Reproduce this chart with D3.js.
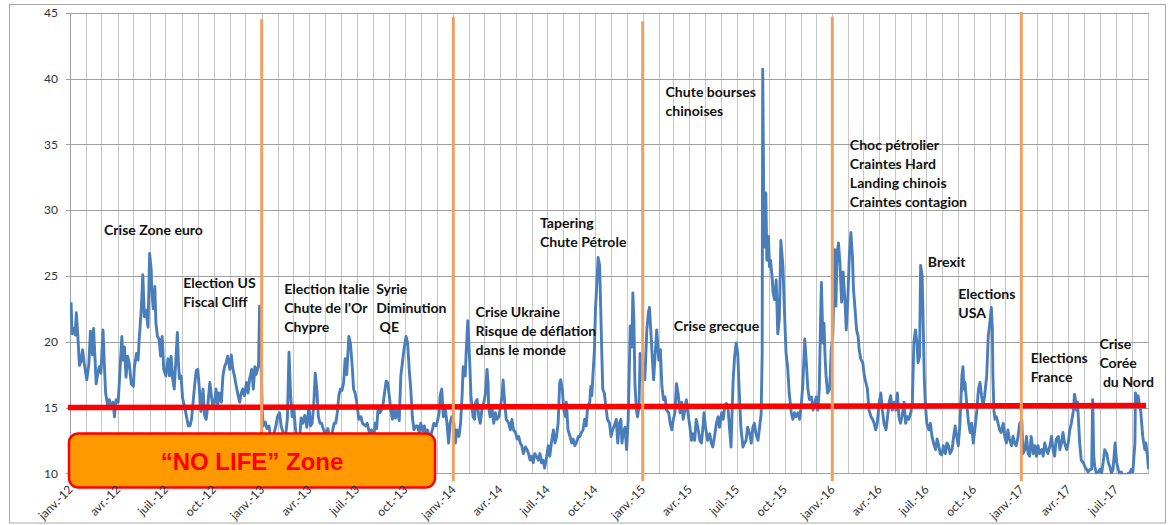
<!DOCTYPE html>
<html>
<head>
<meta charset="utf-8">
<script src="https://cdn.jsdelivr.net/npm/d3@7"></script>
<style>
  html, body { margin: 0; padding: 0; background: #fff; }
  svg { display: block; }
  text { white-space: pre; }
</style>
</head>
<body>
<svg id="chart" width="1169" height="525"></svg>
<script>
// Daily volatility index readings, one array per year: [month-day, close]
const vix2012 = [["01-03",23.0],["01-05",20.6],["01-09",21.0],["01-11",20.5],["01-13",22.2],["01-16",20.4],["01-19",18.2],["01-22",18.5],["01-25",19.4],["01-28",18.4],
  ["02-02",17.1],["02-06",18.3],["02-09",20.8],["02-13",19.0],["02-15",21.0],["02-18",18.5],["02-20",16.8],["02-23",17.6],["02-26",18.1],["02-29",17.6],
  ["03-04",20.9],["03-07",17.9],["03-09",16.1],["03-13",15.1],["03-16",15.6],["03-20",15.0],["03-23",15.4],["03-26",14.3],["03-29",15.6],
  ["04-02",15.4],["04-05",17.5],["04-09",20.4],["04-11",18.6],["04-14",19.6],["04-17",17.3],["04-20",18.9],["04-23",18.4],["04-27",16.8],
  ["05-01",16.6],["05-03",18.1],["05-07",19.1],["05-10",18.6],["05-12",20.1],["05-16",22.4],["05-19",25.1],["05-22",21.9],["05-25",22.4],["05-29",21.1],
  ["06-01",26.7],["06-04",25.5],["06-05",24.0],["06-08",22.5],["06-11",24.2],["06-13",21.4],["06-16",20.4],["06-19",20.2],["06-22",18.9],["06-25",20.4],["06-28",17.9],
  ["07-02",17.4],["07-06",18.7],["07-09",17.4],["07-12",18.9],["07-15",17.2],["07-18",16.4],["07-24",20.7],["07-26",18.4],["07-28",17.2],["07-31",17.4],
  ["08-03",15.7],["08-06",15.2],["08-10",14.4],["08-14",13.6],["08-17",13.6],["08-20",14.1],["08-23",15.4],["08-26",16.7],["08-29",17.8],
  ["09-01",17.9],["09-05",15.9],["09-07",14.7],["09-11",16.4],["09-14",14.4],["09-17",14.1],["09-20",15.1],["09-24",16.9],["09-27",15.9],["09-30",14.9],
  ["10-03",15.4],["10-06",16.4],["10-09",15.2],["10-12",16.1],["10-16",15.4],["10-19",17.4],["10-22",18.1],["10-25",18.4],["10-28",18.9],
  ["11-01",17.9],["11-04",19.0],["11-07",17.9],["11-10",17.4],["11-13",16.7],["11-17",15.9],["11-20",15.4],["11-23",16.1],["11-26",16.4],["11-29",15.9],
  ["12-03",16.9],["12-06",16.1],["12-09",17.2],["12-13",17.9],["12-16",16.4],["12-19",18.1],["12-21",17.5],["12-24",17.9],["12-26",18.2],["12-28",22.7],["12-31",18.0]];

const vix2013 = [["01-02",14.7],["01-04",13.6],["01-08",13.9],["01-11",13.4],["01-15",13.6],["01-18",12.6],["01-23",12.8],["01-28",13.6],["01-31",14.3],
  ["02-04",14.6],["02-07",13.6],["02-12",12.9],["02-15",12.6],["02-19",14.2],["02-22",19.2],["02-25",16.0],["02-28",14.3],
  ["03-03",15.1],["03-06",13.5],["03-09",12.6],["03-13",11.8],["03-17",14.2],["03-20",13.8],["03-24",14.4],["03-28",13.5],
  ["04-01",15.1],["04-04",13.6],["04-07",13.8],["04-10",15.1],["04-13",17.6],["04-16",16.4],["04-19",14.3],["04-22",13.8],["04-25",13.8],["04-29",13.3],
  ["05-03",12.9],["05-07",13.4],["05-11",12.7],["05-15",13.0],["05-19",13.8],["05-22",13.8],["05-25",14.6],["05-28",15.9],["05-31",16.4],
  ["06-03",16.3],["06-06",16.9],["06-09",18.7],["06-12",17.5],["06-16",20.4],["06-19",19.9],["06-22",18.4],["06-25",16.4],["06-28",16.1],
  ["07-01",15.4],["07-05",14.1],["07-09",14.3],["07-12",13.8],["07-18",13.6],["07-21",13.8],["07-25",13.1],["07-29",13.3],
  ["08-02",12.4],["08-05",13.8],["08-08",13.4],["08-11",15.1],["08-14",14.6],["08-17",14.8],["08-20",15.2],["08-23",16.1],["08-26",17.0],["08-29",16.9],
  ["09-01",15.9],["09-04",14.8],["09-07",14.1],["09-10",15.1],["09-13",14.2],["09-17",14.8],["09-20",14.0],["09-23",17.4],["09-26",18.4],["09-29",19.4],
  ["10-03",20.4],["10-06",19.9],["10-09",17.9],["10-12",16.4],["10-15",14.3],["10-18",13.3],["10-22",13.6],["10-25",13.6],["10-28",13.1],["10-31",13.8],
  ["11-04",13.2],["11-07",13.6],["11-10",12.8],["11-13",13.3],["11-17",12.6],["11-22",13.3],["11-25",13.8],["11-29",13.6],
  ["12-02",14.0],["12-05",14.6],["12-07",15.9],["12-10",16.4],["12-13",14.3],["12-17",14.8],["12-20",13.8],["12-23",12.3],["12-26",13.8],["12-29",14.3]];

const vix2014 = [["01-02",13.8],["01-05",12.3],["01-08",13.3],["01-12",12.8],["01-15",13.8],["01-18",15.9],["01-20",18.1],["01-22",17.9],["01-24",17.4],["01-26",19.4],["01-29",21.6],["01-31",19.9],
  ["02-02",18.1],["02-04",15.9],["02-08",14.3],["02-11",14.1],["02-13",15.4],["02-16",15.6],["02-19",14.3],["02-22",13.8],["02-25",14.8],
  ["03-01",15.4],["03-04",16.1],["03-07",17.9],["03-09",16.9],["03-10",15.1],["03-13",14.3],["03-16",15.1],["03-20",13.8],["03-23",14.6],["03-26",14.1],["03-30",14.3],
  ["04-02",15.1],["04-05",15.9],["04-07",17.1],["04-09",15.9],["04-13",14.1],["04-18",13.8],["04-21",13.3],["04-24",14.1],["04-27",13.3],
  ["05-01",13.1],["05-04",12.6],["05-07",12.8],["05-10",12.3],["05-13",12.1],["05-16",11.5],["05-20",12.0],["05-23",11.8],["05-26",11.5],["05-29",11.0],
  ["06-01",11.3],["06-04",10.8],["06-07",11.5],["06-10",11.3],["06-14",11.0],["06-17",11.5],["06-20",10.8],["06-23",11.0],["06-26",10.4],["06-30",11.3],
  ["07-03",12.1],["07-06",11.3],["07-09",12.3],["07-13",13.3],["07-16",12.3],["07-19",12.8],["07-22",13.8],["07-25",16.9],["07-27",17.1],["07-30",16.4],
  ["08-02",14.8],["08-05",14.3],["08-07",15.4],["08-10",13.3],["08-14",12.8],["08-17",12.3],["08-20",12.6],["08-23",12.1],["08-26",12.3],["08-30",12.8],
  ["09-02",12.8],["09-05",13.1],["09-08",13.3],["09-11",14.1],["09-14",13.6],["09-17",15.1],["09-21",15.4],["09-23",16.6],["09-25",15.9],["09-27",17.4],["09-30",19.4],
  ["10-02",22.5],["10-05",24.7],["10-07",26.4],["10-10",25.8],["10-12",22.7],["10-14",19.4],["10-16",16.4],["10-19",16.1],["10-22",15.1],["10-25",14.1],["10-29",13.8],
  ["11-01",12.8],["11-04",13.3],["11-07",13.6],["11-11",14.1],["11-14",12.3],["11-17",13.8],["11-20",14.1],["11-22",12.3],["11-25",13.2],["11-28",13.5],
  ["12-01",11.8],["12-04",14.1],["12-08",21.2],["12-11",19.6],["12-13",23.7],["12-15",21.7],["12-17",16.8],["12-20",14.8],["12-22",14.3],["12-25",15.1],["12-27",19.1],["12-29",17.1]];

const vix2015 = [["01-02",17.8],["01-05",17.1],["01-09",20.9],["01-12",22.2],["01-14",22.6],["01-17",20.6],["01-19",19.1],["01-22",17.1],["01-25",19.1],["01-28",20.9],
  ["02-01",18.6],["02-04",19.4],["02-07",16.6],["02-10",15.6],["02-13",15.8],["02-16",14.8],["02-20",14.6],["02-23",13.8],["02-26",13.3],
  ["03-01",14.1],["03-04",14.6],["03-07",16.8],["03-10",16.1],["03-14",14.6],["03-17",15.4],["03-20",14.1],["03-23",14.8],["03-26",15.6],["03-29",14.6],
  ["04-02",13.5],["04-05",12.5],["04-08",13.0],["04-11",12.5],["04-14",14.1],["04-18",13.3],["04-21",12.5],["04-24",12.3],["04-27",13.5],["04-29",14.6],
  ["05-02",13.5],["05-06",12.5],["05-10",13.0],["05-13",12.3],["05-16",12.0],["05-20",13.0],["05-23",13.8],["05-26",14.3],["05-29",13.5],
  ["06-02",14.6],["06-05",14.1],["06-08",15.1],["06-11",15.3],["06-14",15.1],["06-17",13.5],["06-20",12.0],["06-24",17.0],["06-27",18.9],["06-30",19.9],
  ["07-03",19.1],["07-06",16.1],["07-09",13.5],["07-13",12.0],["07-16",12.3],["07-19",12.5],["07-22",13.5],["07-26",13.0],["07-29",12.3],
  ["08-01",13.5],["08-04",13.8],["08-07",13.0],["08-11",12.5],["08-14",13.5],["08-17",14.5],["08-19",19.0],["08-20",40.7],["08-22",31.3],["08-24",27.2],["08-26",31.3],["08-28",26.2],["08-31",28.0],
  ["09-02",25.7],["09-04",26.2],["09-07",25.0],["09-09",23.7],["09-12",23.2],["09-15",24.7],["09-18",20.6],["09-21",21.7],["09-24",27.7],["09-28",25.7],
  ["10-01",22.2],["10-04",19.1],["10-07",18.1],["10-10",16.1],["10-14",14.6],["10-17",14.1],["10-20",14.6],["10-23",14.3],["10-27",14.6],["10-30",14.1],
  ["11-02",15.1],["11-05",16.6],["11-09",20.2],["11-12",18.4],["11-15",16.4],["11-18",15.6],["11-22",15.8],["11-25",14.8],["11-28",15.3],
  ["12-01",15.8],["12-04",14.8],["12-07",16.4],["12-09",20.9],["12-11",24.5],["12-14",19.9],["12-16",21.4],["12-18",18.9],["12-20",17.4],["12-23",16.1],["12-27",16.4],["12-30",19.4]];

const vix2016 = [["01-02",20.5],["01-04",24.0],["01-06",27.0],["01-08",22.7],["01-10",26.5],["01-13",27.5],["01-16",25.8],["01-19",23.0],["01-22",25.3],["01-26",22.7],["01-28",20.9],["01-31",23.2],
  ["02-03",26.5],["02-06",28.3],["02-09",26.5],["02-11",24.0],["02-14",22.5],["02-17",20.9],["02-20",20.4],["02-22",19.4],["02-25",18.7],["02-29",18.4],
  ["03-03",17.4],["03-06",16.9],["03-09",16.4],["03-12",14.8],["03-16",14.3],["03-19",14.1],["03-22",13.8],["03-25",13.3],["03-28",13.8],
  ["04-01",15.4],["04-04",16.1],["04-07",14.8],["04-10",13.8],["04-14",13.3],["04-17",14.3],["04-20",15.4],["04-23",15.9],["04-26",14.8],["04-30",15.4],
  ["05-03",14.8],["05-06",16.1],["05-09",14.3],["05-12",13.8],["05-15",14.3],["05-19",15.4],["05-22",13.8],["05-25",14.3],["05-28",14.1],
  ["06-01",14.6],["06-04",15.4],["06-07",20.0],["06-10",20.9],["06-13",19.9],["06-15",18.4],["06-18",18.9],["06-20",25.8],["06-23",25.0],["06-25",21.4],["06-27",17.4],["06-29",15.4],
  ["07-02",13.8],["07-06",13.3],["07-09",13.8],["07-12",12.8],["07-15",12.3],["07-19",11.8],["07-22",12.6],["07-25",12.1],["07-28",11.5],["07-31",11.4],
  ["08-03",12.1],["08-07",11.5],["08-10",12.3],["08-13",12.1],["08-16",11.5],["08-20",11.8],["08-23",12.8],["08-26",13.6],["08-29",12.8],
  ["09-01",12.1],["09-04",13.6],["09-08",17.4],["09-10",18.1],["09-12",16.4],["09-14",16.9],["09-17",15.4],["09-21",13.8],["09-24",13.1],["09-27",13.8],["09-30",12.3],
  ["10-03",13.3],["10-07",14.8],["10-10",16.4],["10-13",16.9],["10-16",15.9],["10-19",15.1],["10-22",15.9],["10-26",17.4],["10-29",20.4],
  ["11-01",21.4],["11-04",22.6],["11-06",20.9],["11-07",17.4],["11-09",14.8],["11-11",14.1],["11-14",14.3],["11-17",13.8],["11-20",13.3],["11-23",13.1],["11-27",13.8],["11-30",12.8],
  ["12-03",12.3],["12-06",13.3],["12-09",12.6],["12-13",12.1],["12-16",12.8],["12-19",12.3],["12-22",12.1],["12-25",12.6],["12-29",13.8]];

const vix2017 = [["01-02",14.0],["01-04",11.5],["01-08",11.8],["01-11",12.8],["01-14",11.5],["01-17",11.3],["01-20",12.8],["01-24",11.5],["01-27",12.1],["01-30",11.3],
  ["02-02",12.1],["02-05",11.5],["02-09",11.8],["02-12",11.3],["02-15",12.3],["02-18",11.8],["02-21",11.5],["02-25",12.1],["02-28",12.8],
  ["03-03",11.8],["03-06",11.3],["03-09",12.6],["03-13",12.8],["03-16",11.8],["03-19",12.3],["03-22",13.1],["03-25",12.3],["03-29",11.8],
  ["04-01",12.3],["04-04",13.3],["04-07",13.8],["04-11",14.8],["04-13",16.0],["04-15",15.6],["04-17",14.8],["04-19",15.4],["04-21",13.8],["04-23",12.3],["04-26",11.0],["04-30",10.8],
  ["05-03",10.5],["05-06",10.3],["05-09",10.1],["05-13",10.3],["05-16",10.3],["05-18",15.6],["05-20",11.3],["05-22",10.5],["05-25",10.0],["05-29",10.1],
  ["06-01",10.3],["06-04",10.0],["06-07",10.8],["06-10",11.8],["06-14",11.5],["06-17",10.8],["06-20",10.5],["06-23",10.0],["06-26",10.3],["06-30",12.3],
  ["07-03",10.8],["07-06",10.3],["07-09",9.9],["07-12",10.1],["07-16",9.7],["07-19",9.9],["07-22",9.7],["07-25",10.0],["07-28",10.0],["07-31",10.3],
  ["08-03",10.1],["08-07",12.3],["08-08",16.1],["08-11",15.4],["08-13",15.9],["08-15",15.4],["08-18",14.8],["08-20",13.8],["08-22",12.8],["08-24",12.3],["08-26",11.8],["08-28",12.3],["08-31",11.3],
  ["09-02",10.3]];

// Axis values and labels
const yTicks = [10, 15, 20, 25, 30, 35, 40, 45];
const monthAbbr = ["janv.", "févr.", "mars", "avr.", "mai", "juin", "juil.", "août", "sept.", "oct.", "nov.", "déc."];

// Threshold line (start and end level) and year-change markers
const thresholdLevels = [15, 15.15];
const yearMarkerDates = ["2013-01-01", "2014-01-01", "2015-01-01", "2016-01-01", "2017-01-01"];
const yearMarkerTops = [44.5, 44.7, 44.35, 44.7, 45.05];
const yearMarkerBottom = 9.4;

// Event notes: anchor date / level of the first line
const events = [
  { date: "2012-03-06", level: 28.11, lines: ["Crise Zone euro"] },
  { date: "2012-08-04", level: 24.08, lines: ["Election US", "Fiscal Cliff"] },
  { date: "2013-02-13", level: 23.59, lines: ["Election Italie", "Chute de l'Or", "Chypre"] },
  { date: "2013-08-07", level: 23.59, lines: ["Syrie", "Diminution", " QE"] },
  { date: "2014-02-13", level: 21.88, lines: ["Crise Ukraine", "Risque de déflation", "dans le monde"] },
  { date: "2014-06-17", level: 28.64, lines: ["Tapering", "Chute Pétrole"] },
  { date: "2015-02-14", level: 38.6, lines: ["Chute bourses", "chinoises"] },
  { date: "2015-03-02", level: 20.82, lines: ["Crise grecque"] },
  { date: "2016-02-04", level: 34.53, lines: ["Choc pétrolier", "Craintes Hard", "Landing chinois", "Craintes contagion"] },
  { date: "2016-07-04", level: 25.68, lines: ["Brexit"] },
  { date: "2016-09-01", level: 23.21, lines: ["Elections", "USA"] },
  { date: "2017-01-19", level: 18.35, lines: ["Elections", "France"] },
  { date: "2017-05-31", level: 19.45, lines: ["Crise", "Corée", " du Nord"] }
];
const zoneLabel = "\u201CNO LIFE\u201D Zone";

// ---------- layout ----------
const parseDay = d3.timeParse("%Y-%m-%d");
const yearBreaks = ["2012-01-01", "2013-01-01", "2014-01-01", "2015-01-01", "2016-01-01", "2017-01-01", "2017-09-03"].map(parseDay);
const yearBreakPx = [70, 261.7, 453.3, 642.7, 832.3, 1021.3, 1149];
const plotTop = 12.7, plotBottom = 473.3, plotLeft = 70, plotRight = 1149;

const x = d3.scaleTime().domain(yearBreaks).range(yearBreakPx);
const y = d3.scaleLinear().domain([10, 45]).range([plotBottom, plotTop]);

const series = [[2012, vix2012], [2013, vix2013], [2014, vix2014], [2015, vix2015], [2016, vix2016], [2017, vix2017]]
  .flatMap(([yr, rows]) => rows.map(([md, v]) => ({ date: parseDay(`${yr}-${md}`), value: v })));

const svg = d3.select("#chart");
const labelFont = "Lato, 'DejaVu Sans', sans-serif";

// outer frame
svg.append("rect")
  .attr("x", 9.5).attr("y", 4.5).attr("width", 1156).attr("height", 518.5)
  .attr("fill", "#fff").attr("stroke", "#a8a8a8").attr("stroke-width", 1);

// vertical monthly gridlines (labels are drawn later, above the zone box)
const months = d3.timeMonth.range(yearBreaks[0], d3.timeDay.offset(yearBreaks[yearBreaks.length - 1], 1));
const quarterLabel = d => d.getMonth() % 3 === 0 ? `${monthAbbr[d.getMonth()]}-${d3.timeFormat("%y")(d)}` : "";
const gridX = svg.append("g").attr("transform", `translate(0,${plotBottom})`)
  .call(d3.axisBottom(x).tickValues(months).tickSizeInner(-(plotBottom - plotTop)).tickSizeOuter(0).tickFormat(""));
gridX.select(".domain").remove();
gridX.selectAll(".tick line").attr("stroke", "#c6c6c6").attr("shape-rendering", "crispEdges");

// horizontal gridlines + value labels
const yAxis = d3.axisLeft(y)
  .tickValues(yTicks)
  .tickSizeInner(-(plotRight - 66))
  .tickSizeOuter(0)
  .tickPadding(8)
  .tickFormat(d3.format("d"));
const gy = svg.append("g").attr("transform", "translate(66,0)").call(yAxis);
gy.select(".domain").remove();
gy.selectAll(".tick line").attr("stroke", "#a0a0a0").attr("shape-rendering", "crispEdges");
gy.selectAll(".tick text").attr("font-family", labelFont).attr("font-size", 12).attr("fill", "#333");

// left axis line
svg.append("line")
  .attr("x1", plotLeft).attr("x2", plotLeft).attr("y1", plotTop).attr("y2", plotBottom)
  .attr("stroke", "#a0a0a0").attr("shape-rendering", "crispEdges");

// index line, clipped to the plot area
svg.append("clipPath").attr("id", "plotClip")
  .append("rect").attr("x", plotLeft).attr("y", plotTop - 2)
  .attr("width", plotRight - plotLeft).attr("height", plotBottom - plotTop + 3);

svg.append("path")
  .datum(series)
  .attr("clip-path", "url(#plotClip)")
  .attr("fill", "none")
  .attr("stroke", "#4a7ebb")
  .attr("stroke-width", 2.9)
  .attr("stroke-linejoin", "round")
  .attr("d", d3.line().x(d => x(d.date)).y(d => y(d.value)));

// threshold line at 15
svg.append("line")
  .attr("x1", x(yearBreaks[0]) - 2).attr("x2", plotRight - 3)
  .attr("y1", y(thresholdLevels[0])).attr("y2", y(thresholdLevels[1]))
  .attr("stroke", "#ff0000").attr("stroke-width", 5.5);

// year-change markers
svg.selectAll("line.year-marker")
  .data(yearMarkerDates.map((d, i) => ({ date: parseDay(d), top: yearMarkerTops[i] })))
  .join("line")
  .attr("class", "year-marker")
  .attr("x1", d => x(d.date)).attr("x2", d => x(d.date))
  .attr("y1", d => y(d.top)).attr("y2", y(yearMarkerBottom))
  .attr("stroke", "#f0a060").attr("stroke-width", 3);

// "NO LIFE" zone box
const zone = svg.append("g");
zone.append("rect")
  .attr("x", 69).attr("y", 433.5).attr("width", 366).attr("height", 54)
  .attr("rx", 9).attr("ry", 9)
  .attr("fill", "#ff9900").attr("stroke", "#ff0000").attr("stroke-width", 2.5);
zone.append("text")
  .attr("x", 252).attr("y", 470)
  .attr("text-anchor", "middle")
  .attr("font-family", "'Liberation Sans', Arial, sans-serif")
  .attr("font-weight", 700).attr("font-size", 24)
  .attr("fill", "#ff0000")
  .text(zoneLabel);

// quarterly date labels, rotated
const gx = svg.append("g").attr("transform", `translate(0,${plotBottom})`)
  .call(d3.axisBottom(x).tickValues(months.filter(d => d.getMonth() % 3 === 0)).tickSize(0).tickFormat(quarterLabel));
gx.select(".domain").remove();
gx.selectAll(".tick text")
  .attr("x", 0).attr("y", 0).attr("dy", 0)
  .attr("transform", "translate(3,17) rotate(-45)")
  .attr("text-anchor", "end")
  .attr("font-family", labelFont).attr("font-size", 12).attr("fill", "#333");

// event notes; font size fitted so the first note spans its reference width
const probe = svg.append("text")
  .attr("font-family", labelFont).attr("font-weight", 700).attr("font-size", 20)
  .text(events[0].lines[0]);
const noteSize = 20 * 99 / probe.node().getComputedTextLength();
probe.remove();
const lineStep = 19;

const notes = svg.selectAll("g.note").data(events).join("g").attr("class", "note");
notes.append("text")
  .attr("font-family", labelFont).attr("font-weight", 700)
  .attr("font-size", noteSize.toFixed(2))
  .attr("fill", "#111")
  .each(function (d) {
    const t = d3.select(this);
    const x0 = x(parseDay(d.date)), y0 = y(d.level);
    d.lines.forEach((ln, i) => {
      t.append("tspan").attr("x", x0).attr("y", y0 + i * lineStep).text(ln);
    });
  });
</script>
</body>
</html>
